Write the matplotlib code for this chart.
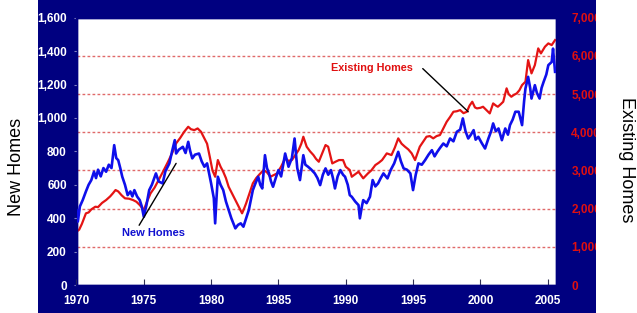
import matplotlib
matplotlib.use("Agg")
import matplotlib.pyplot as plt
from matplotlib.patches import Rectangle
from matplotlib.ticker import FuncFormatter

plt.rcParams['font.family'] = ['Liberation Sans', 'DejaVu Sans']

# ---- data ----
new_years = [1970.0, 1970.1, 1970.25, 1970.46, 1970.7, 1970.9, 1971.1, 1971.3, 1971.45, 1971.6,
             1971.8, 1972.0, 1972.2, 1972.4, 1972.6, 1972.8, 1972.95, 1973.1, 1973.25, 1973.4,
             1973.6, 1973.8, 1974.0, 1974.15, 1974.3, 1974.5, 1974.7, 1974.85, 1975.0, 1975.2,
             1975.4, 1975.6, 1975.9, 1976.1, 1976.4, 1976.6, 1976.9, 1977.1, 1977.3, 1977.4,
             1977.6, 1977.9, 1978.1, 1978.3, 1978.45, 1978.6, 1978.8, 1979.1, 1979.3, 1979.5,
             1979.7, 1980.0, 1980.2, 1980.3, 1980.4, 1980.5, 1980.7, 1980.9, 1981.1, 1981.3,
             1981.5, 1981.8, 1982.0, 1982.2, 1982.4, 1982.6, 1982.8, 1983.0, 1983.1, 1983.3,
             1983.5, 1983.65, 1983.8, 1984.0, 1984.15, 1984.3, 1984.45, 1984.6, 1984.8, 1985.0,
             1985.2, 1985.35, 1985.5, 1985.75, 1986.0, 1986.2, 1986.4, 1986.6, 1986.85, 1987.0,
             1987.2, 1987.45, 1987.7, 1987.9, 1988.1, 1988.3, 1988.5, 1988.7, 1988.9, 1989.05,
             1989.2, 1989.4, 1989.6, 1989.8, 1989.95, 1990.15, 1990.3, 1990.45, 1990.7, 1990.95,
             1991.05, 1991.2, 1991.3, 1991.55, 1991.8, 1992.0, 1992.2, 1992.4, 1992.6, 1992.8,
             1993.1, 1993.35, 1993.6, 1993.9, 1994.1, 1994.3, 1994.55, 1994.8, 1995.0, 1995.2,
             1995.4, 1995.65, 1995.9, 1996.15, 1996.4, 1996.6, 1996.8, 1997.0, 1997.25, 1997.5,
             1997.75, 1998.0, 1998.25, 1998.5, 1998.7, 1998.9, 1999.1, 1999.3, 1999.5, 1999.65,
             1999.85, 2000.1, 2000.35, 2000.6, 2000.8, 2000.95, 2001.15, 2001.35, 2001.6, 2001.85,
             2002.05, 2002.2, 2002.4, 2002.6, 2002.85, 2003.0, 2003.1, 2003.25, 2003.35, 2003.55,
             2003.7, 2003.8, 2004.05, 2004.2, 2004.4, 2004.55, 2004.7, 2004.9, 2005.05, 2005.3,
             2005.4, 2005.55]
new_sales = [448, 380, 470, 508, 560, 600, 628, 678, 640, 690,
             650, 700, 678, 720, 700, 837, 760, 747, 700, 648,
             600, 538, 560, 530, 568, 530, 508, 470, 408, 480,
             568, 600, 668, 620, 608, 680, 728, 800, 867, 787,
             810, 827, 790, 857, 800, 758, 780, 787, 740, 708,
             728, 608, 520, 369, 520, 648, 600, 568, 500, 449,
             400, 339, 360, 369, 349, 400, 449, 530, 568, 610,
             648, 600, 578, 777, 700, 668, 620, 588, 640, 688,
             650, 720, 787, 708, 760, 877, 700, 628, 777, 720,
             708, 690, 668, 640, 598, 660, 698, 660, 688, 640,
             578, 650, 688, 660, 648, 600, 538, 528, 500, 478,
             399, 470, 508, 490, 528, 628, 590, 608, 640, 668,
             638, 690, 728, 797, 740, 698, 690, 668, 568, 660,
             728, 720, 748, 780, 807, 770, 797, 820, 847, 830,
             877, 860, 917, 930, 997, 920, 877, 900, 927, 870,
             887, 850, 817, 877, 920, 967, 920, 937, 867, 937,
             900, 957, 990, 1037, 1037, 990, 957, 1100, 1176, 1246,
             1180, 1116, 1196, 1150, 1116, 1180, 1216, 1260, 1316, 1335,
             1415, 1276]

ex_years = [1970.0, 1970.2, 1970.4, 1970.7, 1970.9, 1971.1, 1971.4, 1971.6, 1971.9, 1972.2,
            1972.5, 1972.7, 1972.9, 1973.1, 1973.35, 1973.6, 1973.9, 1974.2, 1974.45, 1974.7,
            1975.0, 1975.2, 1975.5, 1975.8, 1976.1, 1976.4, 1976.8, 1977.1, 1977.4, 1977.7,
            1978.0, 1978.3, 1978.5, 1978.75, 1979.0, 1979.25, 1979.5, 1979.7, 1979.9, 1980.1,
            1980.3, 1980.5, 1980.7, 1980.9, 1981.1, 1981.3, 1981.55, 1981.8, 1982.05, 1982.3,
            1982.45, 1982.6, 1982.85, 1983.1, 1983.35, 1983.6, 1983.9, 1984.15, 1984.4, 1984.65,
            1984.9, 1985.2, 1985.5, 1985.75, 1986.0, 1986.25, 1986.5, 1986.7, 1986.85, 1987.1,
            1987.35, 1987.6, 1987.8, 1988.0, 1988.25, 1988.5, 1988.7, 1989.0, 1989.25, 1989.5,
            1989.8, 1990.0, 1990.3, 1990.45, 1990.7, 1990.95, 1991.3, 1991.65, 1991.9, 1992.2,
            1992.45, 1992.7, 1993.05, 1993.4, 1993.65, 1993.9, 1994.15, 1994.4, 1994.65, 1994.9,
            1995.15, 1995.5, 1995.75, 1996.0, 1996.25, 1996.5, 1996.75, 1997.0, 1997.25, 1997.5,
            1997.75, 1998.0, 1998.25, 1998.5, 1998.75, 1999.0, 1999.2, 1999.4, 1999.6, 1999.75,
            2000.0, 2000.2, 2000.45, 2000.7, 2000.95, 2001.15, 2001.3, 2001.5, 2001.7, 2001.95,
            2002.1, 2002.3, 2002.5, 2002.7, 2002.9, 2003.1, 2003.35, 2003.55, 2003.8, 2004.05,
            2004.3, 2004.5, 2004.8, 2005.05, 2005.3, 2005.55]
ex_sales = [1395, 1450, 1600, 1877, 1900, 1980, 2050, 2040, 2150, 2225,
            2320, 2400, 2487, 2450, 2350, 2270, 2260, 2225, 2180, 2094,
            1963, 2150, 2400, 2550, 2749, 2950, 3228, 3450, 3709, 3850,
            4013, 4144, 4080, 4056, 4100, 4013, 3840, 3700, 3359, 3000,
            2835, 3272, 3100, 2966, 2800, 2574, 2400, 2225, 2050, 1877,
            2000, 2138, 2400, 2662, 2800, 2900, 3011, 2950, 2835, 2880,
            2922, 3100, 3317, 3250, 3272, 3400, 3534, 3700, 3883, 3621,
            3500, 3403, 3300, 3228, 3450, 3665, 3621, 3184, 3230, 3272,
            3272, 3097, 3011, 2835, 2900, 2966, 2793, 2922, 3000, 3141,
            3200, 3272, 3447, 3403, 3600, 3840, 3700, 3621, 3550, 3447,
            3272, 3621, 3750, 3883, 3900, 3840, 3900, 3927, 4100, 4275,
            4400, 4537, 4550, 4580, 4500, 4537, 4700, 4799, 4650, 4625,
            4640, 4668, 4580, 4494, 4755, 4700, 4668, 4730, 4799, 5150,
            5000, 4930, 4980, 5017, 5100, 5236, 5323, 5890, 5542, 5760,
            6196, 6065, 6240, 6327, 6283, 6414]

x_ticks = [1970, 1975, 1980, 1985, 1990, 1995, 2000, 2005]
left_ticks = [0, 200, 400, 600, 800, 1000, 1200, 1400, 1600]
right_ticks = [0, 1000, 2000, 3000, 4000, 5000, 6000, 7000]
grid_levels = [1000, 2000, 3000, 4000, 5000, 6000]

NAVY = '#000080'
BLUE = '#0F0FEB'
RED = '#E41414'

W, H = 637, 313
fig = plt.figure(figsize=(W / 100, H / 100), dpi=100)
fig.patch.set_facecolor('white')
fig.patches.append(Rectangle((38 / W, 0), (596 - 38) / W, 1, transform=fig.transFigure,
                             facecolor=NAVY, edgecolor='none', zorder=-10))

L, R, B, T = 76.5, 556, 285, 17.7
ax2 = fig.add_axes([L / W, 1 - B / H, (R - L) / W, (B - T) / H])
ax = ax2.twinx()
# left axis carries New Homes; put it on top so the blue line is drawn over the red
ax.yaxis.tick_left()
ax.yaxis.set_label_position('left')
ax2.yaxis.tick_right()
ax.set_zorder(ax2.get_zorder() + 1)
ax.patch.set_visible(False)
ax2.set_facecolor('white')

ax2.set_xlim(1970, 2005.62)
ax2.set_ylim(0, 7000)
ax.set_ylim(0, 1600)

for g in grid_levels:
    ax2.axhline(g, color='#E06A6A', lw=1.0, ls=(0, (2, 1.6)), zorder=1)

ax2.plot(ex_years, ex_sales, color=RED, lw=1.6, zorder=3, solid_joinstyle='round')
ax.plot(new_years, new_sales, color=BLUE, lw=1.9, zorder=3, solid_joinstyle='round')

for a in (ax, ax2):
    for s in a.spines.values():
        s.set_color(NAVY)
        s.set_linewidth(1)

ax2.set_xticks(x_ticks)
ax2.set_xticklabels([str(t) for t in x_ticks])
ax2.tick_params(axis='x', direction='in', length=4, color='#333355', width=0.8,
                labelcolor='white', labelsize=8.5, pad=7)
for lab in ax2.get_xticklabels():
    lab.set_fontweight('bold')

fmt = FuncFormatter(lambda v, p: f"{int(v):,}")
ax.set_yticks(left_ticks)
ax.yaxis.set_major_formatter(fmt)
ax.tick_params(axis='y', direction='out', length=2, color='#8080C0', width=0.8,
               labelcolor='white', labelsize=8.5, pad=5)
ax2.set_yticks(right_ticks)
ax2.yaxis.set_major_formatter(fmt)
ax2.tick_params(axis='y', which='both', length=0, labelcolor='#E01010', labelsize=8.5, pad=11)
for lab in ax.get_yticklabels() + ax2.get_yticklabels():
    lab.set_fontweight('bold')
ax.tick_params(axis='x', length=0)

# annotations
ax2.annotate('Existing Homes', xy=(1999.1, 4537), xytext=(1991.95, 5680),
             textcoords='data', color='#E01010', fontsize=7.8, fontweight='bold',
             ha='center', va='center',
             arrowprops=dict(arrowstyle='-', color='black', lw=1.0,
                             shrinkA=0, shrinkB=0,
                             relpos=(1.12, 0.45)))
ax.annotate('New Homes', xy=(1977.4, 728), xytext=(1975.7, 311),
            textcoords='data', color='#1010D0', fontsize=8, fontweight='bold',
            ha='center', va='center',
            arrowprops=dict(arrowstyle='-', color='black', lw=1.0,
                            shrinkA=0, shrinkB=0, relpos=(0.25, 1.0)))

# white margin on the right clips the right tick labels like the reference
fig.patches.append(Rectangle((596 / W, 0), (W - 596) / W, 1, transform=fig.transFigure,
                             facecolor='white', edgecolor='none', zorder=10))
fig.text(17 / W, 1 - 167 / H, 'New Homes', rotation=90, ha='center', va='center',
         fontsize=13, color='black', zorder=11)
fig.text(627 / W, 1 - 160 / H, 'Existing Homes', rotation=270, ha='center', va='center',
         fontsize=13, color='black', zorder=11)

fig.savefig('out.png', dpi=100, facecolor=fig.get_facecolor())
